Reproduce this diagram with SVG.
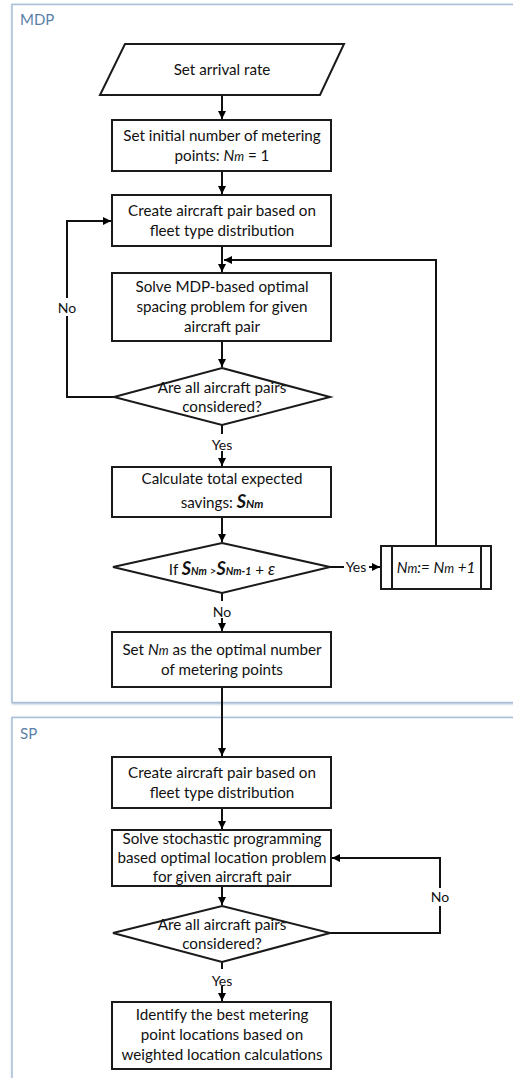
<svg xmlns="http://www.w3.org/2000/svg" width="513" height="1078" viewBox="0 0 513 1078">
<defs>
<marker id="ah" viewBox="0 0 10 10" refX="10" refY="5" markerWidth="8" markerHeight="8" markerUnits="userSpaceOnUse" orient="auto">
<path d="M0,0 L10,5 L0,10 Z" fill="#000"/>
</marker>
<filter id="sh" x="-5%" y="-5%" width="110%" height="110%">
<feDropShadow dx="0.8" dy="0.8" stdDeviation="0.8" flood-color="#6c8db3" flood-opacity="0.6"/>
</filter>
</defs>
<style>
.frame{fill:#fff;stroke:#a9bfd8;stroke-width:1.5}
.flbl{font-family:Lato,"Liberation Sans",sans-serif;font-size:15px;fill:#5a7fa8}
.n{fill:#fff;stroke:#1a1a1a;stroke-width:2}
.t{font-family:Lato,"Liberation Sans",sans-serif;font-size:15.2px;fill:#111;text-anchor:middle}
.c{fill:none;stroke:#111;stroke-width:2}
.lbl{font-family:Lato,"Liberation Sans",sans-serif;font-size:14px;fill:#111;text-anchor:middle}
.it{font-style:italic}
.bi{font-style:italic;font-weight:bold}
</style>
<rect width="513" height="1078" fill="#fff"/>
<g id="frame-mdp">
<rect class="frame" x="12" y="4.5" width="520" height="698" filter="url(#sh)"/>
<text class="flbl" x="20" y="25">MDP</text>
</g>
<g id="frame-sp">
<rect class="frame" x="12" y="717.5" width="520" height="380" filter="url(#sh)"/>
<text class="flbl" x="20" y="739">SP</text>
</g>
<g id="connectors">
<path class="c" d="M222,95 V119" marker-end="url(#ah)"/>
<path class="c" d="M222,171 V194" marker-end="url(#ah)"/>
<path class="c" d="M222,246 V272" marker-end="url(#ah)"/>
<path class="c" d="M222,341 V367" marker-end="url(#ah)"/>
<path class="c" d="M114,397 H67 V221 H111" marker-end="url(#ah)"/>
<rect x="55" y="298" width="24" height="18" fill="#fff"/>
<text class="lbl" x="67" y="313">No</text>
<path class="c" d="M222,425 V466" marker-end="url(#ah)"/>
<rect x="205" y="434" width="34" height="17" fill="#fff"/>
<text class="lbl" x="222" y="450">Yes</text>
<path class="c" d="M222,517 V542" marker-end="url(#ah)"/>
<path class="c" d="M330,567 H380" marker-end="url(#ah)"/>
<rect x="344" y="559" width="25" height="16" fill="#fff"/>
<text class="lbl" x="356" y="572">Yes</text>
<path class="c" d="M436,546 V260 H224" marker-end="url(#ah)"/>
<path class="c" d="M222,593 V631" marker-end="url(#ah)"/>
<rect x="208" y="601" width="28" height="17" fill="#fff"/>
<text class="lbl" x="222" y="617">No</text>
<path class="c" d="M222,687 V756" marker-end="url(#ah)"/>
<path class="c" d="M222,808 V829" marker-end="url(#ah)"/>
<path class="c" d="M330,933 H440 V858 H332" marker-end="url(#ah)"/>
<rect x="428" y="888" width="25" height="18" fill="#fff"/>
<text class="lbl" x="440" y="902">No</text>
<path class="c" d="M222,886 V905" marker-end="url(#ah)"/>
<path class="c" d="M222,962 V1001" marker-end="url(#ah)"/>
<rect x="205" y="969" width="34" height="17" fill="#fff"/>
<text class="lbl" x="222" y="986">Yes</text>
</g>
<g id="n1">
<polygon class="n" points="125,44 344,44 320,95 100,95"/>
<text class="t" x="222" y="75">Set arrival rate</text>
</g>
<g id="n2">
<rect class="n" x="112" y="120" width="219" height="51"/>
<text class="t" x="222" y="141">Set initial number of metering</text>
<text class="t" x="222" y="161">points: <tspan class="it">N<tspan font-size="12.5">m</tspan></tspan> = 1</text>
</g>
<g id="n3">
<rect class="n" x="112" y="195" width="219" height="51"/>
<text class="t" x="222" y="216">Create aircraft pair based on</text>
<text class="t" x="222" y="236">fleet type distribution</text>
</g>
<g id="n4">
<rect class="n" x="112" y="273" width="219" height="68"/>
<text class="t" x="222" y="292">Solve MDP-based optimal</text>
<text class="t" x="222" y="312">spacing problem for given</text>
<text class="t" x="222" y="332">aircraft pair</text>
</g>
<g id="n5">
<polygon class="n" points="222,368 330,397 222,425 114,397"/>
<text class="t" x="222" y="393">Are all aircraft pairs</text>
<text class="t" x="222" y="412">considered?</text>
</g>
<g id="n6">
<rect class="n" x="112" y="467" width="219" height="50"/>
<text class="t" x="222" y="484">Calculate total expected</text>
<text class="t" x="222" y="508">savings: <tspan class="bi" font-size="18">S</tspan><tspan class="bi" font-size="11.5">Nm</tspan></text>
</g>
<g id="n7">
<polygon class="n" points="222,543 330,567 222,593 113,567"/>
<text class="t" x="222" y="575">If <tspan class="bi" font-size="18">S</tspan><tspan class="bi" font-size="10.5">Nm</tspan><tspan font-size="11.5"> &gt;</tspan><tspan class="bi" font-size="18">S</tspan><tspan class="bi" font-size="10.5">Nm-1</tspan> + <tspan class="it" font-size="17">ε</tspan></text>
</g>
<g id="n8">
<rect class="n" x="381" y="546" width="110" height="43"/>
<line class="n" x1="392" y1="546" x2="392" y2="589"/>
<line class="n" x1="481" y1="546" x2="481" y2="589"/>
<text class="t it" x="436" y="573">N<tspan font-size="12.5">m</tspan>:= N<tspan font-size="12.5">m</tspan> +1</text>
</g>
<g id="n9">
<rect class="n" x="112" y="632" width="219" height="55"/>
<text class="t" x="222" y="655">Set <tspan class="it">N<tspan font-size="12.5">m</tspan></tspan> as the optimal number</text>
<text class="t" x="222" y="675">of metering points</text>
</g>
<g id="s1">
<rect class="n" x="112" y="757" width="219" height="51"/>
<text class="t" x="222" y="778">Create aircraft pair based on</text>
<text class="t" x="222" y="798">fleet type distribution</text>
</g>
<g id="s2">
<rect class="n" x="112" y="830" width="219" height="56"/>
<text class="t" x="222" y="844">Solve stochastic programming</text>
<text class="t" x="222" y="863">based optimal location problem</text>
<text class="t" x="222" y="882">for given aircraft pair</text>
</g>
<g id="s3">
<polygon class="n" points="222,906 330,933 222,962 113,933"/>
<text class="t" x="222" y="930">Are all aircraft pairs</text>
<text class="t" x="222" y="949">considered?</text>
</g>
<g id="s4">
<rect class="n" x="112" y="1002" width="219" height="67"/>
<text class="t" x="222" y="1020">Identify the best metering</text>
<text class="t" x="222" y="1040">point locations based on</text>
<text class="t" x="222" y="1060">weighted location calculations</text>
</g>
</svg>
